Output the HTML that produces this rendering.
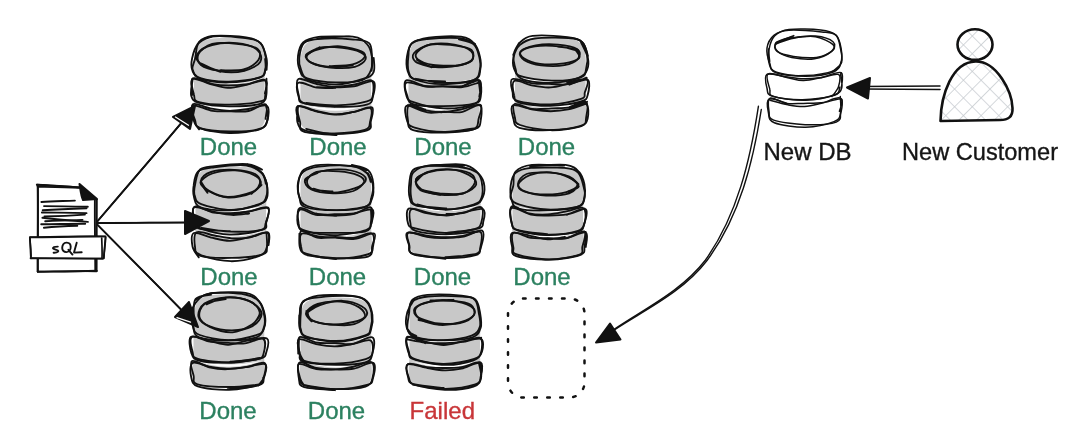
<!DOCTYPE html>
<html><head><meta charset="utf-8"><style>
html,body{margin:0;padding:0;background:#fff;width:1080px;height:436px;overflow:hidden}
svg{position:absolute;left:0;top:0;will-change:transform}
.t{font-family:"Liberation Sans",sans-serif;font-size:24px;stroke-width:0.35px}
</style></head><body>
<svg width="1080" height="436" viewBox="0 0 1080 436">
<path d="M194.0,58.3 C194.8,56.0 195.5,47.6 198.7,44.3 C201.8,41.0 205.0,39.4 212.9,38.4 C220.7,37.4 237.8,37.4 245.6,38.4 C253.5,39.4 256.7,41.0 259.8,44.3 C263.0,47.6 263.7,49.9 264.5,58.3 C265.3,66.7 264.5,84.1 264.5,94.7 C264.5,105.3 266.5,115.9 264.5,121.8 C262.5,127.8 258.3,128.9 252.4,130.6 C246.6,132.2 237.0,131.5 229.2,131.5 C221.5,131.5 211.9,132.2 206.1,130.6 C200.2,128.9 196.0,127.8 194.0,121.8 C192.0,115.9 194.0,105.3 194.0,94.7 C194.0,84.1 194.0,64.4 194.0,58.3 Z" fill="#c8c8c8"/><path d="M196.0,78.2 Q229.2,89.8 262.5,78.2 Q229.2,85.0 196.0,78.2Z" fill="#fff"/><path d="M196.0,103.4 Q229.2,116.0 262.5,103.4 Q229.2,111.2 196.0,103.4Z" fill="#fff"/><g fill="none" stroke="#111" stroke-width="1.85" stroke-linecap="round" stroke-linejoin="round"><path d="M265.1,59.0 C265.2,60.8 266.1,66.5 265.3,69.5 C264.5,72.5 266.3,75.2 260.3,77.2 C254.2,79.2 239.0,81.5 229.0,81.6 C219.0,81.8 206.5,80.2 200.4,78.1 C194.4,76.1 193.5,72.7 192.7,69.4 C191.8,66.2 194.1,63.0 195.1,58.5 C196.2,53.9 195.9,46.0 198.9,42.2 C202.0,38.5 205.7,36.8 213.5,36.0 C221.4,35.2 238.4,36.2 246.2,37.4 C254.0,38.6 257.2,39.7 260.6,43.2 C263.9,46.7 265.5,53.9 266.5,58.3 C267.5,62.7 266.6,67.9 266.6,69.8"/><path d="M197.6,44.1 C199.9,42.8 203.4,37.5 211.3,36.5 C219.3,35.5 237.2,37.1 245.4,38.2 C253.7,39.4 257.2,40.0 260.6,43.4 C264.1,46.8 265.2,53.9 265.9,58.5 C266.6,63.0 266.3,67.4 265.1,70.6 C263.9,73.8 264.9,75.8 259.0,77.8 C253.1,79.7 239.2,82.2 229.6,82.4 C220.0,82.7 207.6,81.0 201.5,79.1 C195.3,77.2 194.1,74.6 192.6,71.1 C191.0,67.6 191.1,63.1 192.1,58.4 C193.1,53.7 195.3,46.6 198.7,43.0 C202.1,39.3 210.2,37.5 212.5,36.4"/><path d="M220.4,71.8 C217.0,70.4 203.9,66.2 200.1,63.2 C196.3,60.2 195.6,56.7 197.6,53.7 C199.6,50.6 205.5,46.7 212.1,45.0 C218.7,43.2 229.4,42.4 236.9,43.2 C244.4,44.0 253.3,46.6 257.1,49.7 C261.0,52.8 262.4,58.4 260.2,61.9 C258.1,65.4 251.0,69.2 244.3,70.8 C237.6,72.4 227.3,72.6 220.1,71.3 C212.9,70.1 204.3,64.8 201.2,63.5"/><path d="M244.0,70.4 C239.8,70.5 226.1,71.6 219.0,70.7 C211.8,69.8 204.3,67.8 200.9,65.0 C197.5,62.2 196.7,57.4 198.6,53.9 C200.5,50.4 205.9,45.7 212.2,44.0 C218.6,42.3 229.1,43.0 236.6,43.8 C244.2,44.6 253.8,46.1 257.4,48.8 C261.0,51.5 260.7,56.6 258.4,60.0 C256.1,63.5 249.9,67.8 243.6,69.5 C237.2,71.2 224.1,70.1 220.2,70.3"/><path d="M192.6,79.7 C192.4,82.4 190.1,91.9 191.2,95.8 C192.4,99.6 193.0,101.2 199.4,102.9 C205.7,104.7 219.1,106.1 229.2,106.3 C239.3,106.4 254.0,105.7 260.0,103.8 C266.0,101.9 264.6,98.9 265.3,94.9 C266.0,90.9 267.6,81.6 264.5,79.9 C261.4,78.2 252.8,83.4 246.6,84.8 C240.5,86.1 233.7,88.0 227.7,87.9 C221.6,87.7 216.1,85.4 210.3,84.0 C204.4,82.5 195.5,77.3 192.6,79.1 C189.6,80.9 192.5,92.2 192.5,94.9"/><path d="M264.9,93.5 C265.1,91.3 268.9,82.1 266.1,80.6 C263.3,79.0 254.2,83.2 247.9,84.1 C241.6,84.9 234.3,85.5 228.4,85.5 C222.5,85.5 218.6,85.3 212.7,84.1 C206.7,82.9 195.8,76.5 192.7,78.3 C189.6,80.0 192.9,90.5 193.9,94.5 C195.0,98.5 193.0,100.4 199.0,102.1 C204.9,103.8 219.2,104.8 229.5,104.6 C239.9,104.5 255.1,102.8 261.2,101.2 C267.3,99.6 265.4,98.7 266.3,95.0 C267.1,91.2 266.4,81.4 266.5,78.7"/><path d="M193.0,118.5 C194.2,120.1 193.7,126.1 200.0,128.2 C206.2,130.4 220.5,131.4 230.4,131.5 C240.3,131.7 253.2,130.9 259.3,129.0 C265.5,127.2 266.0,124.3 267.3,120.4 C268.5,116.5 269.9,107.7 266.7,105.8 C263.6,103.9 254.6,108.1 248.4,109.0 C242.3,109.8 236.1,110.9 229.7,110.8 C223.3,110.7 216.4,109.5 210.2,108.4 C204.0,107.3 195.5,102.1 192.8,104.2 C190.1,106.2 192.9,116.5 193.9,120.7 C195.0,124.9 198.2,127.9 199.0,129.4"/><path d="M265.6,118.9 C265.6,116.4 268.4,105.6 265.6,104.3 C262.7,102.9 254.4,109.9 248.6,111.0 C242.9,112.2 237.1,111.4 231.1,111.3 C225.1,111.3 218.9,111.7 212.5,110.8 C206.1,109.8 195.6,103.9 192.7,105.5 C189.8,107.1 193.8,116.6 195.1,120.4 C196.3,124.2 194.7,126.2 200.4,128.3 C206.1,130.4 219.3,132.9 229.3,133.0 C239.2,133.2 253.7,131.5 260.1,129.2 C266.6,126.9 266.7,123.1 267.7,119.3 C268.7,115.5 266.4,108.5 266.1,106.3"/></g><path d="M300.5,57.4 C301.3,55.3 302.0,47.7 305.2,44.7 C308.3,41.7 311.5,40.2 319.4,39.3 C327.2,38.4 344.3,38.4 352.1,39.3 C360.0,40.2 363.2,41.7 366.3,44.7 C369.5,47.7 370.2,48.9 371.0,57.4 C371.8,65.9 371.0,84.8 371.0,95.7 C371.0,106.6 373.0,116.9 371.0,122.8 C369.0,128.8 364.8,129.9 358.9,131.6 C353.1,133.2 343.5,132.5 335.8,132.5 C328.0,132.5 318.4,133.2 312.6,131.6 C306.7,129.9 302.5,128.8 300.5,122.8 C298.5,116.9 300.5,106.6 300.5,95.7 C300.5,84.8 300.5,63.8 300.5,57.4 Z" fill="#c8c8c8"/><path d="M302.5,79.2 Q335.8,90.8 369.0,79.2 Q335.8,86.0 302.5,79.2Z" fill="#fff"/><path d="M302.5,104.4 Q335.8,117.0 369.0,104.4 Q335.8,112.2 302.5,104.4Z" fill="#fff"/><g fill="none" stroke="#111" stroke-width="1.85" stroke-linecap="round" stroke-linejoin="round"><path d="M317.3,38.8 C323.2,38.4 344.4,35.7 352.8,36.6 C361.2,37.6 364.3,41.3 367.4,44.6 C370.6,47.9 371.1,52.2 371.8,56.2 C372.5,60.2 373.0,64.8 371.5,68.7 C370.0,72.6 368.7,77.5 362.7,79.8 C356.7,82.1 344.7,82.7 335.5,82.4 C326.3,82.2 313.2,80.2 307.3,78.3 C301.4,76.3 301.4,74.4 299.9,70.6 C298.3,66.9 297.5,60.6 298.0,55.9 C298.6,51.3 299.7,45.7 303.1,42.5 C306.5,39.4 310.4,37.9 318.5,36.9 C326.6,36.0 346.2,36.6 351.7,36.6"/><path d="M373.7,57.8 C373.7,60.1 375.2,68.4 373.7,71.9 C372.2,75.3 370.7,76.4 364.5,78.5 C358.3,80.6 345.9,84.2 336.6,84.4 C327.2,84.7 314.2,82.3 308.3,79.8 C302.4,77.4 302.6,73.4 301.1,69.8 C299.6,66.2 298.8,62.5 299.3,58.0 C299.8,53.6 300.6,46.3 304.0,43.1 C307.5,39.9 312.0,39.4 320.2,38.8 C328.4,38.2 345.2,38.7 353.3,39.5 C361.5,40.2 366.0,40.3 369.1,43.1 C372.2,45.9 371.5,51.8 371.9,56.4 C372.4,61.0 371.7,68.3 371.7,70.7"/><path d="M352.9,65.4 C349.2,65.7 337.9,67.5 330.9,67.0 C323.9,66.6 315.0,64.6 311.1,62.7 C307.1,60.7 305.7,57.6 307.1,55.3 C308.5,53.0 313.8,50.5 319.3,49.0 C324.9,47.5 333.3,45.9 340.3,46.3 C347.3,46.7 357.4,49.5 361.4,51.4 C365.4,53.3 365.8,55.4 364.4,57.5 C362.9,59.7 358.5,62.9 352.7,64.3 C347.0,65.7 333.6,65.8 329.7,66.1"/><path d="M305.8,55.9 C308.1,54.5 313.4,48.9 319.5,47.6 C325.6,46.2 335.7,47.1 342.5,47.9 C349.3,48.7 356.4,50.4 360.3,52.2 C364.1,54.1 366.6,56.6 365.7,59.0 C364.8,61.5 360.7,65.4 354.8,66.8 C348.9,68.2 337.4,68.2 330.2,67.5 C323.0,66.9 315.8,65.0 311.7,62.9 C307.7,60.8 304.6,57.5 305.9,54.9 C307.2,52.3 317.3,48.5 319.6,47.3"/><path d="M335.3,87.9 C332.3,87.9 323.1,88.5 317.0,87.7 C310.8,86.8 301.4,81.1 298.3,82.7 C295.3,84.3 297.7,93.7 298.7,97.1 C299.6,100.6 297.7,101.6 304.1,103.2 C310.4,104.8 326.3,106.6 336.8,106.8 C347.3,107.1 360.8,106.4 366.8,104.7 C372.8,103.0 371.8,100.5 372.9,96.6 C374.0,92.7 376.3,83.0 373.2,81.3 C370.0,79.6 360.1,85.4 353.9,86.4 C347.6,87.4 341.8,87.2 335.7,87.4 C329.5,87.5 320.0,87.3 316.9,87.2"/><path d="M306.4,103.0 C311.4,103.4 326.3,105.6 336.4,105.3 C346.6,105.0 361.0,103.1 367.0,101.4 C373.1,99.6 372.1,98.2 372.9,94.7 C373.6,91.2 374.4,82.1 371.4,80.4 C368.4,78.7 361.1,83.4 354.9,84.5 C348.8,85.5 340.9,86.7 334.6,86.7 C328.2,86.6 322.8,85.3 316.7,84.0 C310.7,82.8 301.4,77.3 298.4,79.0 C295.4,80.7 297.5,90.3 298.5,94.3 C299.5,98.3 298.5,101.3 304.6,103.3 C310.7,105.3 329.9,105.9 335.0,106.5"/><path d="M306.2,128.9 C310.8,129.8 323.8,133.9 333.9,134.1 C344.1,134.3 360.9,132.4 367.1,130.3 C373.2,128.1 370.0,125.2 370.8,121.4 C371.6,117.5 374.8,108.9 372.0,107.4 C369.2,105.8 359.8,110.7 353.9,111.9 C347.9,113.1 342.6,114.7 336.4,114.6 C330.2,114.4 323.0,112.4 316.6,111.0 C310.3,109.6 301.0,104.3 298.3,106.1 C295.5,108.0 299.2,117.9 300.1,122.1 C301.0,126.4 297.7,129.4 303.8,131.6 C309.9,133.8 331.2,134.5 336.6,135.1"/><path d="M298.0,105.9 C297.9,108.6 296.2,118.2 297.5,122.3 C298.7,126.4 299.3,128.8 305.5,130.6 C311.6,132.4 324.4,133.4 334.3,133.3 C344.2,133.2 358.8,132.0 364.8,130.0 C370.7,128.0 369.2,124.9 370.2,121.2 C371.1,117.6 373.1,109.7 370.5,108.1 C367.8,106.6 360.4,110.8 354.3,111.8 C348.3,112.9 340.5,114.5 334.2,114.4 C327.8,114.3 322.4,112.6 316.2,111.3 C310.1,110.0 300.2,104.8 297.2,106.5 C294.3,108.2 298.3,118.9 298.6,121.4"/></g><path d="M408.5,56.6 C409.3,54.5 410.0,47.0 413.2,44.1 C416.3,41.1 419.5,39.7 427.4,38.8 C435.2,37.9 452.3,37.9 460.1,38.8 C468.0,39.7 471.2,41.1 474.3,44.1 C477.5,47.0 478.2,48.1 479.0,56.6 C479.8,65.1 479.0,84.2 479.0,95.2 C479.0,106.1 481.0,116.4 479.0,122.3 C477.0,128.3 472.8,129.4 466.9,131.1 C461.1,132.7 451.5,132.0 443.8,132.0 C436.0,132.0 426.4,132.7 420.6,131.1 C414.7,129.4 410.5,128.3 408.5,122.3 C406.5,116.4 408.5,106.1 408.5,95.2 C408.5,84.2 408.5,63.0 408.5,56.6 Z" fill="#c8c8c8"/><path d="M410.5,78.7 Q443.8,90.3 477.0,78.7 Q443.8,85.5 410.5,78.7Z" fill="#fff"/><path d="M410.5,103.9 Q443.8,116.5 477.0,103.9 Q443.8,111.7 410.5,103.9Z" fill="#fff"/><g fill="none" stroke="#111" stroke-width="1.85" stroke-linecap="round" stroke-linejoin="round"><path d="M458.9,39.3 C461.4,40.1 470.3,41.3 473.7,44.2 C477.1,47.1 478.2,52.4 479.2,56.6 C480.2,60.8 480.8,65.4 479.9,69.4 C478.9,73.3 479.8,77.8 473.5,80.2 C467.3,82.7 452.0,84.3 442.3,84.2 C432.5,84.1 420.8,81.7 415.0,79.5 C409.3,77.3 409.1,75.0 407.7,71.1 C406.4,67.3 406.2,61.2 407.0,56.5 C407.7,51.8 408.8,45.9 412.1,43.0 C415.5,40.1 419.3,39.8 427.3,39.0 C435.3,38.2 452.1,37.4 460.1,38.2 C468.1,39.0 472.7,43.0 475.2,44.0"/><path d="M445.1,81.4 C440.2,81.1 421.9,81.3 415.8,79.7 C409.7,78.0 409.8,75.4 408.6,71.4 C407.4,67.4 407.9,60.1 408.4,55.6 C408.9,51.0 408.2,46.9 411.5,43.9 C414.9,41.0 420.5,38.8 428.7,37.6 C436.9,36.4 453.4,35.7 461.0,36.7 C468.6,37.7 471.2,40.4 474.3,43.6 C477.5,46.9 478.8,51.9 479.8,56.1 C480.8,60.3 481.3,64.9 480.4,68.9 C479.5,72.9 480.7,77.6 474.5,79.9 C468.3,82.3 452.9,83.0 443.1,82.8 C433.4,82.6 420.5,79.4 415.9,78.8"/><path d="M431.7,67.3 C429.0,66.3 418.5,64.0 415.6,61.7 C412.7,59.3 411.6,55.9 414.1,53.0 C416.6,50.1 423.8,45.8 430.5,44.4 C437.2,43.0 447.7,43.5 454.4,44.6 C461.2,45.7 468.1,48.3 471.0,51.0 C473.9,53.7 474.2,58.3 471.7,60.8 C469.1,63.2 462.2,64.8 455.7,65.8 C449.1,66.8 438.8,67.9 432.3,66.9 C425.8,65.9 419.5,61.0 416.9,59.8"/><path d="M456.3,65.7 C452.4,65.6 439.6,66.1 433.2,65.0 C426.7,63.9 420.2,61.2 417.6,59.1 C414.9,57.0 415.1,54.6 417.2,52.1 C419.4,49.7 424.3,45.6 430.7,44.5 C437.2,43.5 449.0,44.7 455.8,45.6 C462.6,46.5 468.9,47.5 471.5,50.0 C474.1,52.4 474.1,57.8 471.4,60.5 C468.8,63.2 462.0,65.0 455.5,66.0 C449.0,66.9 436.2,66.0 432.3,66.0"/><path d="M479.3,96.9 C479.4,94.2 482.7,82.3 479.8,80.5 C477.0,78.7 468.6,85.1 462.3,86.1 C455.9,87.0 447.9,86.2 441.7,86.2 C435.5,86.2 430.8,87.0 424.9,86.0 C419.0,85.0 409.3,78.7 406.2,80.3 C403.1,81.8 405.1,91.7 406.3,95.3 C407.5,99.0 407.3,100.0 413.5,102.2 C419.7,104.4 433.9,108.0 443.7,108.4 C453.5,108.8 466.4,106.7 472.4,104.8 C478.4,102.9 478.8,100.9 479.9,96.9 C480.9,93.0 478.9,83.6 478.7,80.9"/><path d="M478.6,82.6 C475.9,83.3 468.3,86.6 462.4,87.2 C456.4,87.9 449.0,86.5 442.9,86.4 C436.8,86.3 432.0,87.2 425.9,86.6 C419.8,86.0 409.4,81.2 406.3,82.7 C403.2,84.2 405.8,91.8 407.1,95.4 C408.4,99.0 407.8,102.7 413.8,104.5 C419.9,106.3 433.2,106.4 443.3,106.2 C453.5,106.1 468.5,105.1 474.7,103.4 C481.0,101.7 480.1,99.9 480.8,96.1 C481.5,92.2 481.9,81.9 478.9,80.2 C476.0,78.5 465.5,85.0 462.9,86.0"/><path d="M425.5,109.7 C422.8,109.0 412.1,103.3 409.2,105.1 C406.3,106.8 407.3,116.1 407.9,120.2 C408.6,124.4 407.0,128.0 413.2,130.1 C419.5,132.1 435.3,132.8 445.6,132.6 C455.9,132.4 469.3,130.9 475.1,128.9 C481.0,126.8 479.9,124.3 480.7,120.4 C481.4,116.4 482.8,106.6 479.6,105.2 C476.4,103.8 467.5,111.0 461.6,112.1 C455.7,113.2 450.0,111.6 444.2,111.7 C438.5,111.7 433.3,113.5 427.3,112.4 C421.2,111.3 411.1,106.3 407.9,105.1"/><path d="M443.4,131.8 C448.4,131.4 467.4,131.6 473.3,129.3 C479.2,127.1 477.5,122.5 478.7,118.4 C479.9,114.3 483.3,106.4 480.5,104.9 C477.8,103.3 468.4,108.0 462.1,109.2 C455.7,110.5 448.8,112.0 442.6,112.2 C436.4,112.4 431.1,111.3 425.1,110.3 C419.1,109.2 409.6,104.0 406.6,105.7 C403.6,107.4 405.9,117.0 407.1,120.6 C408.3,124.2 407.6,125.4 413.8,127.3 C420.0,129.2 434.3,131.9 444.3,132.0 C454.4,132.2 469.1,128.9 474.1,128.3"/></g><path d="M515.0,56.0 C515.8,53.9 516.5,46.5 519.7,43.5 C522.8,40.6 526.0,39.1 533.9,38.3 C541.7,37.4 558.8,37.4 566.6,38.3 C574.5,39.1 577.7,40.6 580.8,43.5 C584.0,46.5 584.7,47.6 585.5,56.0 C586.3,64.3 585.5,82.8 585.5,93.5 C585.5,104.2 587.5,114.2 585.5,120.1 C583.5,125.9 579.3,127.0 573.5,128.6 C567.6,130.2 558.0,129.6 550.2,129.6 C542.5,129.6 532.9,130.2 527.0,128.6 C521.2,127.0 517.0,125.9 515.0,120.1 C513.0,114.2 515.0,104.2 515.0,93.5 C515.0,82.8 515.0,62.2 515.0,56.0 Z" fill="#c8c8c8"/><path d="M517.0,77.3 Q550.2,88.7 583.5,77.3 Q550.2,84.0 517.0,77.3Z" fill="#fff"/><path d="M517.0,102.0 Q550.2,114.4 583.5,102.0 Q550.2,109.6 517.0,102.0Z" fill="#fff"/><g fill="none" stroke="#111" stroke-width="1.85" stroke-linecap="round" stroke-linejoin="round"><path d="M581.0,42.3 C582.2,44.9 586.8,53.2 587.8,57.8 C588.8,62.4 588.7,66.4 587.1,69.8 C585.6,73.1 584.4,75.6 578.5,77.8 C572.7,79.9 561.4,82.5 552.1,82.8 C542.9,83.1 529.3,81.8 522.9,79.4 C516.6,77.0 515.5,72.2 514.0,68.4 C512.5,64.7 512.7,60.7 513.7,56.8 C514.7,52.8 516.5,47.9 520.0,44.9 C523.5,41.8 526.6,39.7 534.7,38.5 C542.8,37.4 560.6,37.3 568.5,38.0 C576.5,38.6 579.3,39.3 582.5,42.3 C585.8,45.3 587.1,53.7 588.0,56.0"/><path d="M513.2,54.9 C514.3,52.9 516.3,46.2 519.5,43.0 C522.7,39.9 524.6,36.7 532.6,35.8 C540.6,34.8 559.3,36.2 567.5,37.2 C575.6,38.2 578.4,38.9 581.7,41.7 C584.9,44.5 586.3,49.8 587.1,54.2 C587.8,58.6 587.3,64.4 586.2,68.3 C585.2,72.1 586.6,75.3 580.8,77.3 C575.1,79.4 561.6,80.9 551.6,80.7 C541.6,80.5 526.8,78.2 520.8,76.2 C514.8,74.3 516.8,72.6 515.6,69.0 C514.4,65.3 513.2,58.6 513.8,54.2 C514.3,49.9 518.2,44.9 519.1,43.0"/><path d="M575.7,50.0 C576.3,51.4 581.1,56.0 579.1,58.2 C577.1,60.4 570.4,62.4 563.9,63.3 C557.4,64.3 546.7,64.7 540.1,63.9 C533.5,63.1 527.4,60.7 524.2,58.6 C521.0,56.5 518.9,53.5 520.8,51.3 C522.7,49.1 529.7,46.5 535.8,45.4 C542.0,44.3 551.1,44.1 558.0,44.7 C564.8,45.3 573.5,46.9 577.0,49.1 C580.5,51.3 578.6,56.4 578.9,57.9"/><path d="M557.5,46.5 C560.8,47.1 574.2,47.8 577.6,49.9 C581.0,52.0 580.1,56.3 577.9,58.8 C575.7,61.4 570.7,64.0 564.5,65.1 C558.4,66.2 547.8,66.1 541.1,65.3 C534.4,64.5 527.9,62.4 524.4,60.2 C521.0,58.0 518.6,54.3 520.3,52.0 C522.1,49.7 528.4,47.3 534.9,46.3 C541.3,45.4 552.0,45.6 559.0,46.3 C565.9,47.0 573.6,49.8 576.5,50.5"/><path d="M587.0,79.1 C583.8,79.9 573.9,82.4 567.9,83.8 C561.8,85.2 556.5,87.1 550.7,87.4 C544.9,87.8 539.0,86.8 533.0,85.7 C526.9,84.6 517.5,79.3 514.3,80.9 C511.2,82.6 513.3,91.7 514.1,95.3 C515.0,98.9 513.3,100.8 519.3,102.6 C525.3,104.4 539.8,106.1 550.1,105.9 C560.4,105.8 574.9,103.5 581.2,101.5 C587.5,99.6 586.8,98.0 587.8,94.4 C588.9,90.7 590.6,81.1 587.5,79.5 C584.5,77.9 572.4,83.8 569.4,84.7"/><path d="M586.7,77.7 C583.6,78.8 574.4,83.2 568.1,84.2 C561.8,85.3 554.8,84.0 548.9,83.9 C542.9,83.8 538.6,84.2 532.5,83.4 C526.4,82.6 515.7,77.5 512.4,79.0 C509.1,80.4 511.7,88.3 512.6,92.0 C513.4,95.6 511.2,98.8 517.5,100.9 C523.8,103.0 539.9,104.7 550.5,104.4 C561.1,104.0 575.3,100.8 581.0,98.9 C586.7,96.9 583.9,95.7 584.8,92.5 C585.8,89.3 589.8,81.3 586.8,79.6 C583.9,77.9 570.4,81.9 567.1,82.4"/><path d="M587.1,101.8 C584.3,102.7 576.2,106.3 570.2,107.4 C564.3,108.5 557.8,108.1 551.4,108.4 C545.1,108.6 538.2,109.7 532.0,108.9 C525.9,108.2 517.4,102.6 514.5,104.0 C511.7,105.4 514.0,113.9 514.9,117.5 C515.8,121.0 514.2,122.9 520.1,125.0 C526.1,127.1 540.4,130.0 550.6,130.2 C560.8,130.4 575.4,128.3 581.3,126.1 C587.2,123.9 585.4,121.2 586.2,117.2 C587.0,113.2 588.8,103.7 586.0,102.0 C583.2,100.3 572.1,106.3 569.4,107.1"/><path d="M586.3,103.6 C583.3,104.6 574.1,108.1 568.1,109.4 C562.2,110.7 556.6,111.2 550.7,111.2 C544.9,111.2 539.4,110.5 533.1,109.5 C526.8,108.6 516.2,103.8 512.9,105.3 C509.7,106.8 512.3,115.0 513.4,118.8 C514.5,122.5 513.4,125.9 519.4,127.8 C525.4,129.7 539.3,130.5 549.4,130.2 C559.5,129.9 573.6,128.1 580.0,126.2 C586.3,124.2 586.6,122.5 587.6,118.8 C588.6,115.1 589.0,105.7 586.0,104.0 C583.0,102.4 572.5,108.3 569.8,109.1"/></g><path d="M195.5,184.5 C196.3,182.5 197.0,175.2 200.2,172.4 C203.3,169.5 206.5,168.1 214.4,167.2 C222.2,166.4 239.3,166.4 247.1,167.2 C255.0,168.1 258.2,169.5 261.3,172.4 C264.5,175.2 265.2,176.2 266.0,184.5 C266.8,192.8 266.0,211.5 266.0,222.2 C266.0,232.9 268.0,242.8 266.0,248.6 C264.0,254.4 259.8,255.5 253.9,257.1 C248.1,258.7 238.5,258.1 230.8,258.1 C223.0,258.1 213.4,258.7 207.6,257.1 C201.7,255.5 197.5,254.4 195.5,248.6 C193.5,242.8 195.5,232.9 195.5,222.2 C195.5,211.5 195.5,190.8 195.5,184.5 Z" fill="#c8c8c8"/><path d="M197.5,206.1 Q230.8,217.4 264.0,206.1 Q230.8,212.7 197.5,206.1Z" fill="#fff"/><path d="M197.5,230.7 Q230.8,242.9 264.0,230.7 Q230.8,238.2 197.5,230.7Z" fill="#fff"/><g fill="none" stroke="#111" stroke-width="1.85" stroke-linecap="round" stroke-linejoin="round"><path d="M247.8,164.2 C250.0,165.5 258.0,168.8 261.1,172.0 C264.2,175.2 265.6,179.2 266.5,183.5 C267.5,187.9 268.2,194.4 266.9,197.9 C265.7,201.3 265.2,202.0 259.3,204.1 C253.4,206.1 241.0,210.0 231.3,210.0 C221.6,210.0 207.3,206.5 201.2,204.1 C195.1,201.8 195.9,199.2 194.8,195.9 C193.8,192.6 194.2,188.8 195.1,184.5 C196.0,180.1 196.8,172.6 200.1,169.5 C203.3,166.5 206.7,167.0 214.6,166.1 C222.5,165.2 239.6,163.6 247.5,164.2 C255.4,164.8 259.6,168.7 262.0,169.6"/><path d="M262.4,173.1 C263.2,175.0 266.4,180.5 267.0,184.7 C267.5,188.9 267.3,195.0 265.7,198.4 C264.2,201.8 263.6,203.3 257.6,205.3 C251.7,207.2 239.3,210.0 229.8,210.3 C220.3,210.7 206.5,209.6 200.6,207.4 C194.6,205.2 195.2,200.8 194.0,197.1 C192.9,193.4 193.0,189.6 193.7,185.4 C194.3,181.1 194.7,174.6 198.1,171.5 C201.6,168.5 206.3,168.3 214.3,167.3 C222.4,166.3 238.5,164.5 246.4,165.5 C254.4,166.5 258.7,170.2 261.9,173.3 C265.2,176.3 265.2,181.9 265.8,183.6"/><path d="M207.5,192.8 C206.4,190.8 200.3,184.6 200.9,181.1 C201.5,177.6 205.5,173.9 211.1,172.0 C216.6,170.2 227.0,169.5 234.3,169.8 C241.6,170.2 250.8,171.7 255.1,174.0 C259.3,176.4 260.5,180.6 259.8,183.8 C259.1,187.0 256.1,191.0 250.8,193.3 C245.5,195.6 235.2,198.0 228.2,197.6 C221.1,197.1 212.9,193.6 208.3,190.8 C203.7,188.1 202.0,182.7 200.7,181.1"/><path d="M261.5,184.9 C259.9,186.1 257.4,190.2 251.8,192.2 C246.1,194.3 234.6,197.2 227.6,197.0 C220.5,196.8 214.0,193.5 209.5,191.1 C205.0,188.6 200.1,185.4 200.5,182.5 C201.0,179.6 206.6,175.5 212.3,173.5 C218.1,171.5 228.0,170.2 235.0,170.4 C241.9,170.7 249.8,172.9 254.1,175.1 C258.4,177.4 261.3,180.7 260.8,183.9 C260.4,187.0 253.0,192.2 251.5,193.8"/><path d="M201.7,227.8 C206.5,228.5 220.3,231.3 230.5,231.6 C240.7,231.9 256.7,231.2 262.6,229.7 C268.6,228.1 265.4,226.0 266.3,222.3 C267.2,218.6 270.9,209.4 268.1,207.6 C265.3,205.7 255.7,210.4 249.5,211.3 C243.2,212.2 236.5,212.9 230.6,213.1 C224.6,213.3 219.7,213.7 213.7,212.6 C207.8,211.5 198.3,205.2 195.0,206.5 C191.7,207.9 193.1,217.2 193.9,220.9 C194.8,224.7 194.1,227.1 200.1,228.8 C206.1,230.5 225.0,230.8 230.0,231.2"/><path d="M249.1,213.5 C246.2,213.7 237.8,215.3 231.6,214.9 C225.5,214.6 218.5,212.6 212.3,211.4 C206.0,210.2 196.9,205.7 194.0,207.5 C191.2,209.3 194.2,218.6 195.3,222.1 C196.4,225.5 194.9,226.2 200.7,228.3 C206.4,230.4 219.7,234.3 229.6,234.6 C239.6,234.9 254.6,232.2 260.6,230.2 C266.6,228.3 264.5,226.4 265.8,222.8 C267.0,219.1 270.7,210.2 268.0,208.3 C265.3,206.4 256.0,210.3 249.6,211.3 C243.2,212.3 232.8,213.8 229.5,214.4"/><path d="M193.9,249.0 C195.0,250.0 194.7,253.2 200.9,255.2 C207.0,257.3 221.2,261.1 230.9,261.2 C240.7,261.3 253.3,258.2 259.4,255.8 C265.4,253.4 265.8,250.5 267.1,246.7 C268.5,242.9 270.5,234.5 267.5,232.9 C264.5,231.3 255.4,235.9 249.1,237.2 C242.9,238.6 236.5,240.8 230.1,240.8 C223.8,240.9 217.2,238.9 211.2,237.6 C205.2,236.3 197.0,231.5 193.9,233.0 C190.8,234.5 191.8,242.7 192.6,246.8 C193.4,250.9 197.7,255.6 198.7,257.4"/><path d="M268.6,245.0 C268.5,242.9 271.1,233.5 267.9,232.3 C264.7,231.1 255.3,236.7 249.3,237.7 C243.2,238.7 237.5,238.6 231.7,238.3 C225.9,237.9 220.3,236.5 214.5,235.5 C208.6,234.5 199.9,230.4 196.7,232.3 C193.4,234.2 194.4,242.9 195.0,246.9 C195.6,250.8 194.3,254.1 200.4,255.9 C206.6,257.8 221.4,258.2 231.8,257.9 C242.1,257.7 256.9,256.3 262.7,254.4 C268.6,252.5 266.3,250.3 266.9,246.7 C267.5,243.1 266.6,235.1 266.5,232.8"/></g><path d="M300.5,182.3 C301.3,180.5 302.0,174.1 305.2,171.5 C308.3,169.0 311.5,167.7 319.4,167.0 C327.2,166.2 344.3,166.2 352.1,167.0 C360.0,167.7 363.2,169.0 366.3,171.5 C369.5,174.1 370.2,173.9 371.0,182.3 C371.8,190.8 371.0,211.1 371.0,222.2 C371.0,233.2 373.0,242.8 371.0,248.6 C369.0,254.4 364.8,255.5 358.9,257.1 C353.1,258.7 343.5,258.1 335.8,258.1 C328.0,258.1 318.4,258.7 312.6,257.1 C306.7,255.5 302.5,254.4 300.5,248.6 C298.5,242.8 300.5,233.2 300.5,222.2 C300.5,211.1 300.5,189.0 300.5,182.3 Z" fill="#c8c8c8"/><path d="M302.5,206.1 Q335.8,217.4 369.0,206.1 Q335.8,212.7 302.5,206.1Z" fill="#fff"/><path d="M302.5,230.7 Q335.8,242.9 369.0,230.7 Q335.8,238.2 302.5,230.7Z" fill="#fff"/><g fill="none" stroke="#111" stroke-width="1.85" stroke-linecap="round" stroke-linejoin="round"><path d="M367.8,173.0 C368.7,174.8 372.0,179.8 372.7,183.9 C373.5,188.0 373.8,193.8 372.3,197.8 C370.8,201.7 370.0,205.3 363.8,207.4 C357.6,209.5 344.9,210.5 335.1,210.4 C325.4,210.4 311.1,209.2 305.1,207.0 C299.2,204.8 300.6,201.2 299.4,197.3 C298.2,193.3 297.2,187.7 297.9,183.4 C298.5,179.2 299.9,174.7 303.4,171.9 C306.8,169.1 310.6,167.7 318.6,166.7 C326.7,165.8 343.7,165.0 351.7,166.0 C359.6,167.0 363.3,170.1 366.4,172.7 C369.6,175.4 370.0,180.4 370.7,181.9"/><path d="M351.8,165.0 C354.5,165.8 364.5,167.0 368.1,170.1 C371.6,173.2 372.8,178.8 373.3,183.5 C373.8,188.2 372.3,194.6 371.2,198.4 C370.0,202.2 372.1,204.3 366.3,206.3 C360.5,208.2 346.2,210.1 336.4,210.1 C326.5,210.0 313.4,208.3 307.2,206.0 C301.0,203.7 300.4,200.3 299.0,196.1 C297.6,191.9 297.9,185.3 298.7,180.9 C299.5,176.5 300.2,172.5 303.8,169.8 C307.5,167.2 312.2,165.4 320.5,164.8 C328.7,164.3 345.6,165.4 353.3,166.4 C361.0,167.3 364.5,169.8 366.8,170.5"/><path d="M332.5,191.5 C329.0,191.0 315.9,190.7 311.7,188.8 C307.5,186.8 306.4,182.7 307.2,180.0 C308.0,177.3 310.9,174.5 316.4,172.7 C321.9,170.9 333.0,169.2 340.4,169.4 C347.7,169.5 356.3,171.6 360.5,173.5 C364.7,175.5 366.6,178.5 365.6,181.0 C364.6,183.5 359.9,186.5 354.4,188.4 C348.9,190.4 339.4,192.6 332.6,192.6 C325.7,192.6 316.5,189.3 313.3,188.6"/><path d="M305.2,180.9 C307.1,179.4 311.0,173.6 316.6,172.0 C322.2,170.4 332.1,170.8 339.0,171.4 C346.0,171.9 354.0,173.6 358.1,175.4 C362.3,177.2 364.7,179.6 364.0,182.1 C363.2,184.7 358.5,189.1 353.4,191.0 C348.2,192.8 340.0,193.6 333.0,193.4 C326.0,193.1 316.0,191.8 311.3,189.5 C306.6,187.2 303.9,182.3 305.0,179.5 C306.0,176.8 315.5,174.0 317.6,172.9"/><path d="M336.2,215.8 C333.1,215.5 323.5,215.3 317.4,214.0 C311.3,212.8 302.8,206.6 299.6,208.1 C296.5,209.7 297.9,219.3 298.6,223.2 C299.4,227.1 298.0,229.9 304.1,231.6 C310.1,233.2 324.5,232.8 334.7,232.9 C344.9,232.9 358.9,233.4 365.0,231.6 C371.2,229.8 370.6,225.9 371.5,221.8 C372.4,217.8 373.5,208.7 370.6,207.4 C367.8,206.1 360.1,212.4 354.4,213.8 C348.6,215.1 342.6,215.5 336.2,215.5 C329.9,215.5 319.7,214.0 316.3,213.7"/><path d="M371.5,223.5 C371.7,221.2 375.4,211.3 372.5,209.6 C369.5,207.9 360.2,212.5 353.9,213.3 C347.5,214.1 340.8,214.0 334.4,214.2 C328.1,214.5 321.4,215.7 315.7,214.9 C310.0,214.1 303.0,208.1 300.0,209.6 C297.1,211.1 296.9,220.3 297.7,223.8 C298.6,227.3 299.0,228.7 305.1,230.6 C311.1,232.5 324.0,235.3 334.1,235.2 C344.3,235.1 359.9,232.2 366.0,230.1 C372.1,227.9 370.1,225.7 370.9,222.4 C371.8,219.1 371.0,212.2 371.0,210.1"/><path d="M299.4,233.6 C299.5,235.9 298.8,244.1 299.9,247.4 C301.0,250.8 300.1,251.8 306.1,253.6 C312.1,255.5 325.7,258.4 335.9,258.6 C346.2,258.7 361.2,256.5 367.4,254.5 C373.6,252.5 372.3,250.1 373.0,246.6 C373.7,243.0 374.9,234.7 371.6,233.3 C368.3,231.9 359.2,237.3 353.2,237.9 C347.1,238.5 341.2,237.1 335.3,237.0 C329.3,237.0 322.9,238.8 317.2,237.7 C311.6,236.7 304.2,229.5 301.3,230.9 C298.4,232.4 300.1,243.8 299.9,246.4"/><path d="M307.5,255.4 C312.4,255.9 326.8,258.0 336.9,258.2 C347.0,258.4 362.1,258.7 368.0,256.6 C373.9,254.6 371.2,249.8 372.2,246.0 C373.2,242.1 377.1,234.7 374.2,233.5 C371.3,232.3 361.0,238.1 354.8,238.8 C348.6,239.6 343.0,238.2 336.9,237.8 C330.7,237.4 323.9,237.0 318.1,236.3 C312.2,235.7 304.5,232.1 301.6,233.8 C298.8,235.6 300.3,243.2 301.1,246.7 C302.0,250.2 300.8,253.0 306.6,255.0 C312.5,257.1 331.2,258.3 336.1,259.0"/></g><path d="M410.0,183.2 C410.8,181.2 411.5,174.3 414.7,171.5 C417.8,168.8 421.0,167.4 428.9,166.6 C436.7,165.8 453.8,165.8 461.6,166.6 C469.5,167.4 472.7,168.8 475.8,171.5 C479.0,174.3 479.7,174.8 480.5,183.2 C481.3,191.5 480.5,210.8 480.5,221.6 C480.5,232.3 482.5,242.0 480.5,247.7 C478.5,253.5 474.3,254.6 468.4,256.1 C462.6,257.7 453.0,257.1 445.2,257.1 C437.5,257.1 427.9,257.7 422.1,256.1 C416.2,254.6 412.0,253.5 410.0,247.7 C408.0,242.0 410.0,232.3 410.0,221.6 C410.0,210.8 410.0,189.6 410.0,183.2 Z" fill="#c8c8c8"/><path d="M412.0,205.7 Q445.2,216.9 478.5,205.7 Q445.2,212.2 412.0,205.7Z" fill="#fff"/><path d="M412.0,230.0 Q445.2,242.1 478.5,230.0 Q445.2,237.4 412.0,230.0Z" fill="#fff"/><g fill="none" stroke="#111" stroke-width="1.85" stroke-linecap="round" stroke-linejoin="round"><path d="M446.3,208.4 C441.3,207.9 422.2,207.3 416.1,205.5 C410.0,203.7 410.8,201.6 409.7,197.7 C408.6,193.9 408.8,187.2 409.4,182.5 C410.0,177.8 410.0,172.5 413.3,169.7 C416.7,166.9 421.1,166.8 429.4,165.9 C437.6,165.1 454.9,163.6 462.8,164.6 C470.6,165.5 473.4,168.5 476.5,171.4 C479.7,174.3 480.9,177.4 481.7,181.9 C482.5,186.3 482.8,194.3 481.4,198.1 C480.0,201.9 479.6,202.6 473.5,204.6 C467.4,206.5 454.1,209.8 444.7,209.7 C435.3,209.7 421.8,205.3 417.2,204.5"/><path d="M429.6,165.8 C435.1,166.0 454.4,166.3 462.3,167.5 C470.2,168.6 473.4,170.1 477.0,172.6 C480.5,175.2 482.8,178.6 483.8,182.7 C484.8,186.7 484.5,193.1 482.9,196.9 C481.3,200.6 480.4,203.1 474.2,205.1 C468.0,207.2 455.3,209.3 445.6,209.3 C436.0,209.3 422.3,207.1 416.6,205.0 C410.8,203.0 412.0,200.7 411.1,197.1 C410.2,193.5 410.6,187.6 411.0,183.5 C411.4,179.4 410.4,175.4 413.4,172.3 C416.4,169.3 420.7,166.5 429.2,165.4 C437.7,164.3 458.5,165.6 464.4,165.6"/><path d="M416.3,181.3 C418.1,179.8 421.5,174.1 427.2,172.2 C432.8,170.2 443.3,168.9 450.3,169.3 C457.2,169.8 464.5,172.5 468.8,175.0 C473.1,177.5 477.0,181.5 476.2,184.5 C475.4,187.5 469.8,191.3 464.1,193.0 C458.3,194.7 448.9,195.5 441.7,194.9 C434.6,194.2 425.6,191.8 421.3,189.2 C417.0,186.6 415.0,182.0 416.0,179.3 C417.0,176.5 425.3,173.8 427.1,172.7"/><path d="M440.5,194.9 C437.1,194.1 424.6,192.7 420.5,190.1 C416.4,187.6 415.0,182.4 416.0,179.5 C417.1,176.6 421.6,174.4 427.0,172.7 C432.4,171.0 441.5,169.5 448.6,169.6 C455.8,169.7 465.6,171.1 470.0,173.3 C474.3,175.5 475.7,179.6 474.7,183.0 C473.6,186.3 469.3,191.5 463.6,193.3 C457.9,195.0 447.7,194.1 440.6,193.6 C433.5,193.0 424.2,190.4 420.9,189.8"/><path d="M464.3,212.6 C461.1,213.0 451.4,215.1 445.0,215.2 C438.7,215.2 432.4,214.1 426.3,213.0 C420.3,211.9 411.8,206.9 408.7,208.6 C405.7,210.3 407.0,219.9 408.0,223.2 C408.9,226.4 408.3,226.5 414.4,228.1 C420.5,229.7 434.7,232.6 444.6,232.8 C454.6,232.9 468.3,230.8 474.4,229.1 C480.5,227.4 480.2,226.0 481.3,222.4 C482.4,218.7 484.2,208.7 481.1,207.2 C478.0,205.6 468.4,212.0 462.6,213.2 C456.9,214.3 449.2,213.8 446.5,214.0"/><path d="M446.1,232.8 C451.4,232.1 471.7,230.6 477.9,228.7 C484.1,226.9 482.5,224.9 483.3,221.6 C484.2,218.3 485.9,210.7 482.9,209.1 C479.9,207.5 471.3,211.1 465.2,212.1 C459.2,213.2 452.8,215.3 446.7,215.5 C440.7,215.6 434.8,213.9 428.9,212.9 C423.1,211.9 414.5,207.5 411.4,209.2 C408.3,210.9 409.7,219.7 410.4,223.3 C411.1,226.9 409.9,228.9 415.7,230.8 C421.5,232.6 435.2,234.2 445.5,234.3 C455.7,234.4 471.9,231.8 477.2,231.3"/><path d="M415.6,254.5 C420.6,255.1 435.6,258.0 445.6,258.1 C455.6,258.2 469.8,257.0 475.6,255.2 C481.4,253.5 479.5,251.5 480.3,247.6 C481.1,243.7 483.4,233.8 480.5,231.9 C477.6,230.0 468.9,234.9 463.0,236.0 C457.2,237.0 451.2,237.8 445.4,238.0 C439.6,238.2 434.5,238.1 428.3,237.2 C422.2,236.3 411.7,231.3 408.5,232.7 C405.4,234.1 408.6,242.0 409.4,245.7 C410.2,249.3 407.5,252.1 413.6,254.3 C419.6,256.5 440.2,258.1 445.5,258.8"/><path d="M445.4,257.1 C450.3,256.6 468.8,256.1 474.8,254.3 C480.8,252.5 479.9,250.2 481.2,246.3 C482.4,242.3 485.1,232.2 482.2,230.6 C479.3,229.0 470.1,235.4 463.9,236.5 C457.7,237.7 451.2,237.4 445.0,237.2 C438.8,237.1 432.8,236.4 426.5,235.6 C420.2,234.9 410.1,231.2 407.2,232.7 C404.3,234.2 407.9,241.1 408.9,244.7 C409.8,248.2 407.0,251.7 413.1,253.9 C419.2,256.1 435.2,257.8 445.5,257.8 C455.9,257.9 470.3,254.7 475.2,254.1"/></g><path d="M512.5,185.4 C513.3,183.2 514.0,175.7 517.2,172.6 C520.3,169.6 523.5,168.2 531.4,167.3 C539.2,166.4 556.3,166.4 564.1,167.3 C572.0,168.2 575.2,169.6 578.3,172.6 C581.5,175.7 582.2,177.0 583.0,185.4 C583.8,193.7 583.0,212.1 583.0,222.8 C583.0,233.5 585.0,243.6 583.0,249.5 C581.0,255.4 576.8,256.5 571.0,258.1 C565.1,259.7 555.5,259.0 547.8,259.0 C540.0,259.0 530.4,259.7 524.5,258.1 C518.7,256.5 514.5,255.4 512.5,249.5 C510.5,243.6 512.5,233.5 512.5,222.8 C512.5,212.1 512.5,191.6 512.5,185.4 Z" fill="#c8c8c8"/><path d="M514.5,206.5 Q547.8,218.0 581.0,206.5 Q547.8,213.2 514.5,206.5Z" fill="#fff"/><path d="M514.5,231.4 Q547.8,243.8 581.0,231.4 Q547.8,239.0 514.5,231.4Z" fill="#fff"/><g fill="none" stroke="#111" stroke-width="1.85" stroke-linecap="round" stroke-linejoin="round"><path d="M530.4,166.1 C536.2,165.9 557.5,163.9 565.7,164.9 C573.8,165.9 576.0,168.8 579.1,172.0 C582.2,175.3 583.5,180.1 584.4,184.3 C585.3,188.5 585.3,193.5 584.3,197.2 C583.3,200.9 584.7,204.5 578.6,206.5 C572.4,208.6 557.1,209.8 547.3,209.5 C537.4,209.2 525.7,206.6 519.6,204.7 C513.5,202.8 511.7,201.3 510.6,198.1 C509.6,194.9 512.5,190.2 513.3,185.7 C514.1,181.3 512.5,174.9 515.6,171.5 C518.7,168.0 523.9,165.8 532.0,164.9 C540.1,163.9 558.8,165.5 564.2,165.6"/><path d="M530.2,167.0 C535.9,167.2 556.4,166.9 564.3,167.8 C572.3,168.8 574.9,169.5 578.1,172.5 C581.2,175.6 582.4,182.0 583.5,186.2 C584.5,190.5 585.6,194.6 584.6,198.1 C583.6,201.6 583.5,204.9 577.3,207.0 C571.2,209.1 557.3,210.2 547.4,210.4 C537.6,210.7 524.4,210.4 518.4,208.6 C512.5,206.8 512.9,203.3 511.6,199.5 C510.3,195.7 510.1,190.0 510.7,185.6 C511.3,181.1 512.1,175.9 515.4,173.0 C518.8,170.0 523.0,168.8 531.0,167.9 C538.9,167.0 557.6,167.7 563.0,167.7"/><path d="M569.0,177.0 C570.4,178.3 578.0,182.5 577.5,185.0 C577.1,187.5 571.6,190.5 566.3,192.1 C561.0,193.7 552.8,194.6 545.7,194.5 C538.7,194.4 528.7,193.3 524.1,191.5 C519.4,189.7 517.6,186.8 518.0,183.8 C518.4,180.9 521.3,175.9 526.6,174.0 C531.9,172.1 542.7,172.3 549.8,172.7 C556.9,173.1 564.5,174.7 569.3,176.6 C574.1,178.5 577.0,182.9 578.5,184.1"/><path d="M578.3,186.2 C576.8,187.4 574.5,191.8 569.2,193.3 C563.8,194.9 553.3,195.7 546.1,195.5 C538.8,195.2 530.4,193.5 525.8,191.7 C521.2,189.8 517.7,187.1 518.4,184.4 C519.0,181.6 524.4,177.1 529.8,175.1 C535.2,173.1 543.9,171.8 550.7,172.3 C557.4,172.8 565.5,175.7 570.2,178.1 C574.9,180.4 579.1,184.2 578.8,186.5 C578.5,188.8 570.1,191.0 568.3,191.9"/><path d="M584.6,208.5 C581.7,209.5 573.1,213.2 566.8,214.4 C560.5,215.5 552.8,215.5 546.8,215.6 C540.8,215.6 536.8,215.8 530.9,214.6 C525.0,213.3 514.6,206.3 511.5,208.1 C508.4,209.8 511.0,221.4 512.2,225.1 C513.3,228.9 512.7,228.9 518.5,230.6 C524.3,232.3 537.0,235.0 546.9,235.1 C556.8,235.3 571.6,233.4 577.8,231.6 C584.0,229.8 582.8,228.2 584.0,224.4 C585.3,220.7 588.3,210.7 585.4,209.1 C582.5,207.5 569.9,213.8 566.8,214.8"/><path d="M518.1,230.2 C523.1,230.9 538.1,234.5 548.1,234.6 C558.1,234.7 571.8,233.2 578.0,230.9 C584.1,228.5 584.2,224.4 585.1,220.6 C585.9,216.8 586.1,209.6 583.1,208.0 C580.1,206.5 573.1,210.1 567.2,211.2 C561.3,212.3 554.0,214.1 547.7,214.5 C541.3,214.8 535.1,214.8 529.1,213.4 C523.2,212.1 514.8,204.9 511.9,206.4 C509.0,207.8 510.6,218.2 511.6,222.2 C512.5,226.1 511.7,228.1 517.6,230.1 C523.5,232.1 542.3,233.5 547.2,234.2"/><path d="M585.8,246.9 C585.7,244.5 589.0,233.9 585.7,232.5 C582.4,231.0 572.4,237.1 566.1,238.1 C559.9,239.0 554.1,238.2 548.2,238.2 C542.3,238.1 536.7,238.7 530.9,237.8 C525.1,236.9 516.2,231.3 513.3,232.9 C510.3,234.5 512.8,243.9 513.4,247.6 C514.0,251.2 510.8,252.5 516.9,254.5 C522.9,256.5 539.0,259.5 549.6,259.6 C560.2,259.6 574.6,257.0 580.4,254.8 C586.3,252.6 583.7,250.4 584.6,246.6 C585.5,242.7 585.5,234.3 585.7,231.9"/><path d="M564.8,236.8 C561.9,237.3 553.3,239.5 547.6,239.4 C541.8,239.2 536.2,236.8 530.3,235.8 C524.3,234.7 515.0,231.3 512.0,233.1 C509.0,235.0 511.4,243.0 512.1,246.8 C512.8,250.6 510.2,254.0 516.2,256.2 C522.2,258.3 537.7,259.8 548.2,259.5 C558.6,259.3 573.2,256.9 578.9,254.8 C584.6,252.6 581.5,250.6 582.4,246.7 C583.3,242.9 587.1,232.9 584.4,231.4 C581.7,230.0 572.4,237.0 566.1,238.3 C559.8,239.5 549.8,238.7 546.6,238.8"/></g><path d="M193.5,315.2 C194.3,312.9 195.0,304.3 198.2,301.0 C201.3,297.6 204.5,295.9 212.4,294.9 C220.2,293.9 237.3,293.9 245.1,294.9 C253.0,295.9 256.2,297.6 259.3,301.0 C262.5,304.3 263.2,306.7 264.0,315.2 C264.8,323.8 264.0,341.6 264.0,352.2 C264.0,362.7 266.0,372.8 264.0,378.6 C262.0,384.4 257.8,385.5 251.9,387.1 C246.1,388.7 236.5,388.1 228.8,388.1 C221.0,388.1 211.4,388.7 205.6,387.1 C199.7,385.5 195.5,384.4 193.5,378.6 C191.5,372.8 193.5,362.7 193.5,352.2 C193.5,341.6 193.5,321.4 193.5,315.2 Z" fill="#c8c8c8"/><path d="M195.5,336.1 Q228.8,347.4 262.0,336.1 Q228.8,342.7 195.5,336.1Z" fill="#fff"/><path d="M195.5,360.7 Q228.8,372.9 262.0,360.7 Q228.8,368.2 195.5,360.7Z" fill="#fff"/><g fill="none" stroke="#111" stroke-width="1.85" stroke-linecap="round" stroke-linejoin="round"><path d="M193.5,328.3 C193.1,326.1 190.3,319.9 190.9,315.3 C191.5,310.8 193.8,304.5 197.2,300.8 C200.6,297.1 203.3,294.3 211.3,293.2 C219.3,292.1 237.1,293.1 245.1,294.5 C253.1,295.9 256.1,298.1 259.3,301.7 C262.5,305.2 263.5,311.4 264.3,315.7 C265.1,319.9 265.3,323.6 264.0,327.2 C262.6,330.8 262.4,335.2 256.4,337.4 C250.4,339.6 237.5,340.5 228.0,340.5 C218.4,340.5 204.9,339.5 199.1,337.3 C193.4,335.1 194.2,330.9 193.3,327.3 C192.3,323.7 193.4,317.6 193.5,315.6"/><path d="M195.9,299.7 C198.3,298.7 202.0,294.5 210.3,293.3 C218.6,292.2 237.5,291.5 245.6,292.8 C253.8,294.1 255.9,297.5 259.1,301.3 C262.3,305.1 264.1,310.8 264.9,315.4 C265.7,320.0 265.3,325.5 263.9,328.7 C262.6,332.0 262.8,333.0 256.9,334.9 C250.9,336.8 237.9,340.1 228.3,340.1 C218.8,340.1 205.7,337.2 199.8,335.0 C193.9,332.8 194.2,330.5 193.2,327.1 C192.2,323.7 193.2,319.5 193.6,314.8 C194.0,310.1 192.8,302.3 195.7,298.9 C198.7,295.6 208.7,295.2 211.3,294.5"/><path d="M206.7,304.4 C209.9,303.3 218.8,298.2 225.8,297.6 C232.9,297.1 243.0,298.3 248.9,300.9 C254.9,303.5 261.0,309.0 261.6,313.2 C262.2,317.4 257.5,323.3 252.5,326.1 C247.5,329.0 238.9,330.3 231.8,330.4 C224.7,330.4 215.3,328.6 209.9,326.4 C204.5,324.2 200.4,320.8 199.5,317.1 C198.6,313.4 200.2,307.0 204.5,304.0 C208.9,301.1 222.1,300.0 225.7,299.2"/><path d="M260.8,314.5 C259.3,316.2 256.7,321.5 252.0,324.5 C247.3,327.4 239.7,331.9 232.6,332.3 C225.5,332.7 215.3,329.4 209.7,326.8 C204.0,324.2 199.3,320.6 198.5,316.8 C197.6,312.9 199.9,306.9 204.5,303.6 C209.1,300.4 218.6,297.7 226.1,297.3 C233.6,296.9 243.8,298.7 249.4,301.2 C255.0,303.8 259.0,308.6 259.7,312.4 C260.4,316.2 254.6,322.2 253.6,324.1"/><path d="M230.3,361.6 C235.3,361.1 254.1,360.2 260.1,358.7 C266.1,357.1 265.2,355.6 266.3,352.3 C267.4,348.9 270.1,340.4 266.9,338.5 C263.7,336.6 253.6,339.7 247.2,340.7 C240.7,341.7 234.2,344.7 228.2,344.8 C222.1,344.9 216.7,342.6 210.7,341.3 C204.7,340.0 195.0,335.1 192.0,336.9 C189.0,338.7 191.6,348.5 192.6,352.1 C193.6,355.8 191.7,357.1 198.0,358.9 C204.3,360.7 220.3,362.7 230.4,362.6 C240.6,362.6 254.1,359.4 258.8,358.8"/><path d="M229.0,362.6 C233.8,362.0 251.8,360.9 257.6,359.2 C263.4,357.6 262.9,356.2 263.8,352.8 C264.7,349.4 266.4,340.5 263.2,338.9 C260.1,337.3 250.7,342.7 244.9,343.4 C239.2,344.0 234.4,343.2 228.5,342.9 C222.7,342.6 216.1,342.7 209.9,341.7 C203.6,340.6 194.2,334.8 191.1,336.7 C188.1,338.6 190.1,349.1 191.4,353.1 C192.7,357.0 193.1,358.9 199.0,360.5 C204.9,362.0 216.8,362.9 226.9,362.5 C237.0,362.0 254.2,358.8 259.6,358.0"/><path d="M258.3,385.5 C259.3,384.1 263.2,380.4 264.3,376.8 C265.4,373.3 268.2,365.7 265.1,364.1 C262.0,362.5 252.0,366.4 245.6,367.2 C239.2,367.9 232.8,368.8 226.8,368.7 C220.7,368.6 215.0,367.6 209.3,366.7 C203.6,365.7 195.8,361.3 192.8,362.9 C189.7,364.5 190.2,372.2 191.0,376.1 C191.9,380.0 191.5,384.1 197.9,386.4 C204.2,388.7 218.9,390.2 229.1,389.9 C239.4,389.6 253.5,386.7 259.2,384.6 C264.9,382.5 262.6,378.7 263.3,377.5"/><path d="M227.7,389.1 C232.9,388.4 253.1,387.3 259.1,385.2 C265.1,383.2 263.0,380.7 263.9,377.0 C264.9,373.3 267.3,364.6 264.7,362.9 C262.1,361.2 254.3,365.6 248.1,366.7 C241.9,367.7 233.8,369.1 227.6,369.2 C221.3,369.4 216.7,369.1 210.7,367.7 C204.8,366.4 194.9,359.7 192.0,361.1 C189.2,362.4 192.7,371.9 193.6,375.8 C194.5,379.6 191.6,382.4 197.5,384.3 C203.5,386.1 218.9,387.0 229.2,387.0 C239.5,387.1 254.4,384.9 259.4,384.5"/></g><path d="M300.5,314.0 C301.3,312.1 302.0,305.5 305.2,302.9 C308.3,300.2 311.5,298.9 319.4,298.2 C327.2,297.4 344.3,297.4 352.1,298.2 C360.0,298.9 363.2,300.2 366.3,302.9 C369.5,305.5 370.2,305.6 371.0,314.0 C371.8,322.3 371.0,342.0 371.0,352.9 C371.0,363.7 373.0,373.4 371.0,379.2 C369.0,385.0 364.8,386.1 358.9,387.6 C353.1,389.2 343.5,388.6 335.8,388.6 C328.0,388.6 318.4,389.2 312.6,387.6 C306.7,386.1 302.5,385.0 300.5,379.2 C298.5,373.4 300.5,363.7 300.5,352.9 C300.5,342.0 300.5,320.5 300.5,314.0 Z" fill="#c8c8c8"/><path d="M302.5,336.9 Q335.8,348.2 369.0,336.9 Q335.8,343.5 302.5,336.9Z" fill="#fff"/><path d="M302.5,361.3 Q335.8,373.5 369.0,361.3 Q335.8,368.8 302.5,361.3Z" fill="#fff"/><g fill="none" stroke="#111" stroke-width="1.85" stroke-linecap="round" stroke-linejoin="round"><path d="M334.2,341.3 C329.7,340.6 312.8,339.5 307.0,337.4 C301.3,335.2 300.9,332.4 299.7,328.4 C298.5,324.3 299.3,317.4 299.8,313.1 C300.2,308.8 299.3,305.5 302.4,302.6 C305.4,299.7 309.5,296.8 317.9,295.6 C326.3,294.5 344.6,295.1 352.6,295.9 C360.5,296.8 362.5,298.0 365.6,300.8 C368.8,303.6 370.6,308.2 371.5,312.8 C372.3,317.3 371.7,324.6 370.6,328.3 C369.6,332.1 370.9,333.1 365.2,335.3 C359.4,337.4 346.1,340.7 336.1,341.0 C326.1,341.4 310.4,338.1 305.2,337.6"/><path d="M300.2,327.4 C300.3,325.2 300.2,319.0 300.7,314.6 C301.2,310.3 300.1,304.1 303.2,301.2 C306.3,298.3 310.9,298.1 319.0,297.3 C327.2,296.5 344.1,295.6 352.1,296.2 C360.1,296.9 363.7,298.1 367.1,301.3 C370.5,304.4 371.7,310.5 372.4,315.0 C373.1,319.6 372.3,325.2 371.2,328.7 C370.0,332.2 371.3,333.8 365.6,336.0 C359.9,338.2 346.6,341.8 336.8,341.9 C327.0,342.0 312.6,338.9 306.6,336.7 C300.6,334.5 301.8,332.1 300.6,328.6 C299.4,325.0 299.6,317.5 299.4,315.3"/><path d="M311.6,321.4 C310.7,320.0 305.0,315.9 306.0,313.0 C307.1,310.1 311.9,305.8 317.6,303.9 C323.4,302.0 333.8,301.1 340.7,301.7 C347.6,302.3 355.1,304.9 359.2,307.4 C363.2,309.8 365.8,314.1 364.9,316.6 C363.9,319.0 359.3,320.7 353.4,322.0 C347.5,323.4 336.7,324.9 329.6,324.5 C322.4,324.1 314.5,322.0 310.6,319.8 C306.7,317.5 307.0,312.5 306.3,311.1"/><path d="M308.1,312.0 C310.1,310.8 314.3,306.8 320.0,305.0 C325.8,303.1 335.7,300.6 342.6,300.8 C349.6,301.0 357.5,303.8 361.6,306.2 C365.6,308.5 368.0,312.0 366.8,315.0 C365.6,318.0 360.0,322.6 354.2,324.2 C348.4,325.8 339.0,325.2 332.0,324.5 C325.0,323.9 316.2,322.5 312.2,320.2 C308.3,318.0 307.1,313.7 308.2,311.1 C309.2,308.5 317.0,305.5 318.7,304.4"/><path d="M299.8,354.9 C300.4,356.0 297.2,359.9 303.3,361.5 C309.3,363.2 325.7,364.7 336.1,364.9 C346.4,365.0 359.3,364.2 365.4,362.4 C371.4,360.6 371.4,357.7 372.3,354.0 C373.1,350.3 373.6,342.1 370.5,340.4 C367.4,338.7 359.6,342.8 353.7,343.8 C347.7,344.8 341.0,346.3 334.7,346.3 C328.5,346.4 322.0,345.2 316.0,344.1 C310.0,342.9 301.5,337.8 298.8,339.3 C296.0,340.8 298.8,349.4 299.7,353.2 C300.7,357.0 303.6,360.7 304.4,362.2"/><path d="M299.0,337.9 C299.1,340.1 298.3,347.1 299.2,350.9 C300.1,354.8 298.5,358.7 304.4,360.8 C310.3,363.0 324.3,364.0 334.5,363.7 C344.7,363.5 359.3,361.2 365.7,359.2 C372.1,357.2 371.8,355.4 372.8,351.7 C373.9,348.1 375.7,338.6 372.2,337.3 C368.8,336.0 358.3,343.0 352.1,344.0 C345.9,344.9 341.0,343.3 335.1,343.1 C329.2,342.9 322.7,343.7 316.8,342.7 C310.9,341.7 302.7,335.3 299.6,337.1 C296.5,338.9 298.5,350.8 298.2,353.6"/><path d="M304.1,385.2 C309.4,385.9 325.4,389.3 335.9,389.2 C346.4,389.2 360.8,386.7 367.0,384.9 C373.1,383.2 371.8,382.5 372.8,378.8 C373.9,375.1 376.3,364.6 373.2,362.9 C370.1,361.2 360.3,367.5 354.1,368.6 C347.9,369.7 342.4,369.5 336.2,369.4 C329.9,369.3 322.5,369.1 316.3,368.0 C310.2,366.8 302.4,360.6 299.5,362.5 C296.6,364.3 298.3,374.9 299.0,379.0 C299.8,383.1 298.2,385.2 304.2,387.1 C310.1,388.9 329.8,389.7 335.0,390.2"/><path d="M299.1,377.8 C300.0,379.1 298.4,383.5 304.5,385.3 C310.6,387.2 325.5,388.9 335.7,389.1 C345.8,389.3 359.3,388.4 365.5,386.5 C371.6,384.5 371.7,381.2 372.7,377.2 C373.8,373.2 374.9,363.9 371.6,362.2 C368.3,360.5 359.1,365.6 353.1,366.8 C347.1,368.0 341.9,369.1 335.7,369.4 C329.6,369.8 322.4,369.9 316.2,369.0 C310.1,368.1 301.4,362.5 298.8,364.1 C296.1,365.6 299.3,374.9 300.2,378.5 C301.1,382.0 303.6,384.3 304.2,385.4"/></g><path d="M409.5,313.0 C410.3,311.1 411.0,304.1 414.2,301.3 C417.3,298.6 420.5,297.2 428.4,296.4 C436.2,295.6 453.3,295.6 461.1,296.4 C469.0,297.2 472.2,298.6 475.3,301.3 C478.5,304.1 479.2,304.4 480.0,313.0 C480.8,321.6 480.0,341.8 480.0,352.9 C480.0,363.9 482.0,373.4 480.0,379.2 C478.0,385.0 473.8,386.1 467.9,387.6 C462.1,389.2 452.5,388.6 444.8,388.6 C437.0,388.6 427.4,389.2 421.6,387.6 C415.7,386.1 411.5,385.0 409.5,379.2 C407.5,373.4 409.5,363.9 409.5,352.9 C409.5,341.8 409.5,319.7 409.5,313.0 Z" fill="#c8c8c8"/><path d="M411.5,336.9 Q444.8,348.2 478.0,336.9 Q444.8,343.5 411.5,336.9Z" fill="#fff"/><path d="M411.5,361.3 Q444.8,373.5 478.0,361.3 Q444.8,368.8 411.5,361.3Z" fill="#fff"/><g fill="none" stroke="#111" stroke-width="1.85" stroke-linecap="round" stroke-linejoin="round"><path d="M408.7,312.0 C409.3,309.9 409.4,302.6 412.5,299.7 C415.6,296.8 419.1,295.5 427.3,294.8 C435.5,294.2 453.6,294.8 461.6,295.7 C469.5,296.5 472.2,297.2 475.0,300.1 C477.9,303.0 478.0,308.6 478.8,313.0 C479.6,317.4 481.1,322.8 479.9,326.6 C478.7,330.3 477.7,333.4 471.6,335.6 C465.5,337.9 452.9,339.8 443.5,340.2 C434.2,340.5 421.4,339.8 415.2,337.6 C409.1,335.4 407.9,331.3 406.6,327.1 C405.3,322.9 406.2,316.6 407.3,312.3 C408.4,308.0 412.1,303.2 413.1,301.3"/><path d="M416.3,336.0 C414.9,335.0 408.9,333.7 407.7,329.8 C406.5,326.0 408.4,317.8 409.1,313.1 C409.8,308.5 408.7,304.7 411.9,301.9 C415.1,299.1 419.7,297.3 428.1,296.5 C436.6,295.6 454.7,296.1 462.7,296.7 C470.6,297.2 472.7,297.1 475.7,299.8 C478.6,302.6 479.3,308.5 480.1,313.1 C480.9,317.8 482.0,323.6 480.7,327.6 C479.4,331.7 478.5,335.2 472.5,337.3 C466.6,339.4 454.0,340.3 444.7,340.3 C435.4,340.3 423.1,339.3 416.8,337.3 C410.5,335.3 408.6,329.8 406.9,328.3"/><path d="M439.2,324.3 C435.8,323.2 422.6,320.3 418.5,317.6 C414.4,315.0 412.8,311.1 414.7,308.4 C416.6,305.8 423.7,302.8 430.1,301.6 C436.5,300.3 446.3,300.3 453.1,300.9 C459.9,301.4 467.4,302.2 470.8,304.7 C474.3,307.1 475.5,312.3 473.7,315.4 C471.9,318.5 466.0,321.7 460.0,323.0 C454.1,324.4 445.1,323.9 438.2,323.3 C431.3,322.8 421.8,320.5 418.5,320.0"/><path d="M430.4,300.4 C433.9,300.5 444.4,299.7 451.1,300.7 C457.8,301.6 466.7,303.9 470.6,306.2 C474.4,308.5 476.0,311.8 474.3,314.4 C472.6,317.1 466.4,320.4 460.6,322.1 C454.8,323.9 446.3,325.4 439.4,324.9 C432.6,324.3 423.3,321.6 419.4,318.8 C415.5,316.1 414.0,311.1 415.8,308.3 C417.7,305.4 424.3,303.1 430.6,301.7 C436.9,300.3 449.7,300.1 453.5,299.8"/><path d="M425.1,343.2 C422.1,342.1 409.8,335.3 407.1,336.8 C404.4,338.3 407.9,348.5 409.0,352.2 C410.1,355.9 407.5,357.0 413.5,359.1 C419.6,361.3 435.3,364.7 445.3,364.9 C455.3,365.1 467.5,362.4 473.5,360.3 C479.4,358.3 479.8,356.3 481.0,352.5 C482.1,348.8 483.2,339.8 480.2,337.9 C477.2,336.1 468.8,340.7 462.9,341.6 C457.1,342.5 451.6,343.0 445.3,343.2 C439.0,343.3 431.6,343.2 425.2,342.6 C418.7,341.9 409.7,339.8 406.6,339.3"/><path d="M481.2,337.7 C478.1,338.3 469.0,340.3 462.7,341.5 C456.5,342.7 449.9,344.9 443.8,345.0 C437.8,345.1 432.3,343.3 426.3,342.0 C420.3,340.7 410.8,335.9 407.8,337.4 C404.7,338.9 406.7,347.2 407.9,350.8 C409.1,354.4 408.9,357.0 414.9,359.2 C420.9,361.4 434.0,364.0 443.9,363.9 C453.8,363.9 467.8,361.1 474.2,359.0 C480.5,356.8 480.9,354.4 482.1,351.1 C483.2,347.7 484.0,340.5 481.0,338.9 C477.9,337.4 466.7,341.3 463.9,341.7"/><path d="M480.8,377.3 C480.6,374.9 483.1,364.4 479.9,362.9 C476.6,361.5 467.3,367.5 461.5,368.7 C455.6,369.9 450.3,370.5 444.7,370.4 C439.0,370.2 433.6,369.0 427.5,368.0 C421.3,367.0 411.0,362.9 407.8,364.4 C404.5,365.9 407.0,373.5 408.0,376.8 C409.0,380.2 407.6,382.3 413.8,384.5 C419.9,386.7 434.9,389.5 444.9,389.8 C454.8,390.1 467.5,388.5 473.5,386.5 C479.5,384.5 480.2,381.7 481.1,377.8 C482.0,374.0 479.4,366.0 479.1,363.6"/><path d="M412.8,384.6 C418.2,385.3 434.9,388.8 445.4,388.8 C455.8,388.7 469.4,386.4 475.3,384.4 C481.2,382.4 479.9,380.3 480.8,376.7 C481.7,373.0 483.9,364.0 480.6,362.4 C477.4,360.8 467.5,366.2 461.3,367.1 C455.1,368.1 449.3,368.0 443.6,368.0 C437.9,368.0 432.8,367.7 426.9,367.1 C420.9,366.4 410.8,362.3 407.9,364.1 C404.9,366.0 407.7,374.7 408.9,378.1 C410.1,381.5 409.1,382.9 414.9,384.5 C420.7,386.1 438.9,387.4 443.7,388.0"/></g><path d="M769.0,48.4 C769.8,46.4 770.5,39.2 773.6,36.3 C776.8,33.5 780.0,32.1 787.7,31.2 C795.5,30.4 812.5,30.4 820.3,31.2 C828.0,32.1 831.2,33.5 834.4,36.3 C837.5,39.2 838.2,39.9 839.0,48.4 C839.8,57.0 839.0,76.6 839.0,87.7 C839.0,98.8 841.0,108.9 839.0,114.8 C837.0,120.8 832.9,121.9 827.0,123.6 C821.2,125.2 811.7,124.5 804.0,124.5 C796.3,124.5 786.8,125.2 781.0,123.6 C775.1,121.9 771.0,120.8 769.0,114.8 C767.0,108.9 769.0,98.8 769.0,87.7 C769.0,76.6 769.0,55.0 769.0,48.4 Z" fill="#fff"/><path d="M771.0,71.2 Q804.0,82.8 837.0,71.2 Q804.0,78.0 771.0,71.2Z" fill="#fff"/><path d="M771.0,96.4 Q804.0,109.0 837.0,96.4 Q804.0,104.2 771.0,96.4Z" fill="#fff"/><g fill="none" stroke="#111" stroke-width="1.5" stroke-linecap="round" stroke-linejoin="round"><path d="M769.7,61.5 C769.6,59.4 768.3,53.0 769.2,48.7 C770.0,44.4 771.5,39.0 774.8,35.8 C778.1,32.6 781.3,30.5 789.0,29.6 C796.7,28.6 812.9,29.1 820.7,30.1 C828.6,31.0 832.7,32.2 836.1,35.3 C839.5,38.4 840.3,44.0 841.1,48.5 C841.9,53.1 842.1,59.0 840.9,62.7 C839.7,66.3 840.1,68.5 834.1,70.6 C828.2,72.8 814.9,75.2 805.3,75.6 C795.6,76.0 782.2,75.1 776.2,72.8 C770.1,70.6 770.0,66.1 768.8,62.1 C767.5,58.1 768.6,51.1 768.6,48.8"/><path d="M841.6,61.5 C840.3,63.2 839.9,69.3 833.9,71.8 C827.9,74.2 815.1,76.3 805.5,76.3 C795.8,76.3 781.7,74.1 775.8,71.9 C769.8,69.7 771.1,67.1 769.7,63.1 C768.2,59.2 766.3,52.7 767.0,48.1 C767.7,43.4 770.3,38.4 773.9,35.4 C777.5,32.4 780.8,30.8 788.8,30.2 C796.7,29.6 813.9,31.1 821.8,31.9 C829.6,32.7 832.8,32.4 835.9,35.1 C839.0,37.8 839.5,43.6 840.4,48.1 C841.4,52.7 842.9,58.6 841.6,62.5 C840.3,66.3 834.2,69.9 832.7,71.4"/><path d="M775.7,43.9 C778.7,43.0 786.9,39.4 793.6,38.2 C800.2,37.0 809.0,35.7 815.5,36.7 C822.1,37.8 830.1,42.0 832.8,44.4 C835.5,46.8 834.8,48.9 831.7,51.3 C828.7,53.7 821.2,57.8 814.5,58.8 C807.9,59.9 798.0,58.7 791.8,57.5 C785.7,56.2 780.2,53.7 777.5,51.2 C774.9,48.7 773.5,44.9 776.1,42.5 C778.6,40.0 790.2,37.5 793.0,36.6"/><path d="M776.1,42.6 C778.9,41.8 786.3,38.8 792.9,37.7 C799.4,36.6 808.8,35.4 815.5,36.1 C822.2,36.8 830.2,39.3 833.0,41.8 C835.7,44.2 834.8,48.2 832.1,50.8 C829.3,53.4 822.9,56.4 816.5,57.4 C810.0,58.3 800.0,57.4 793.5,56.4 C786.9,55.4 779.9,53.6 777.1,51.4 C774.3,49.2 773.9,45.9 776.7,43.3 C779.5,40.7 791.0,36.9 793.8,35.6"/><path d="M832.0,96.5 C833.1,94.9 837.4,90.3 838.5,86.6 C839.6,82.9 841.6,75.9 838.5,74.4 C835.4,72.9 826.0,77.1 820.1,77.8 C814.2,78.5 809.0,79.0 803.2,78.8 C797.4,78.6 791.2,77.4 785.2,76.7 C779.1,76.0 770.0,72.5 766.9,74.5 C763.9,76.4 766.1,84.7 767.0,88.3 C767.9,92.0 766.4,94.2 772.3,96.1 C778.2,98.0 792.0,99.8 802.4,99.7 C812.7,99.6 828.3,97.5 834.5,95.4 C840.8,93.3 838.9,88.5 839.8,87.2"/><path d="M841.2,89.2 C841.2,86.4 844.4,74.7 841.3,72.7 C838.1,70.7 828.4,76.0 822.1,77.3 C815.8,78.6 809.2,80.4 803.5,80.5 C797.8,80.6 793.7,78.8 787.8,77.7 C781.9,76.6 771.0,71.9 768.0,73.8 C765.0,75.7 768.9,85.4 769.8,89.2 C770.8,93.0 767.7,94.7 773.7,96.5 C779.7,98.4 795.6,100.6 805.8,100.3 C815.9,100.0 828.6,97.0 834.6,94.8 C840.6,92.7 840.8,91.0 841.8,87.5 C842.7,83.9 840.7,75.9 840.5,73.6"/><path d="M839.4,111.3 C839.8,109.3 844.1,100.5 841.5,99.0 C839.0,97.6 830.4,101.7 824.1,102.4 C817.7,103.2 809.7,103.2 803.4,103.4 C797.1,103.5 792.0,104.2 786.5,103.4 C780.9,102.5 773.0,96.8 770.1,98.1 C767.2,99.5 768.4,107.7 769.0,111.4 C769.6,115.1 767.7,117.9 773.7,120.1 C779.7,122.3 794.6,124.4 805.1,124.7 C815.5,125.1 830.3,124.3 836.3,122.1 C842.2,119.9 839.9,115.9 840.6,111.6 C841.3,107.4 840.4,99.1 840.3,96.5"/><path d="M786.5,103.2 C783.6,102.5 772.2,97.3 769.2,99.0 C766.2,100.6 767.6,109.1 768.5,113.0 C769.3,117.0 768.1,120.3 774.3,122.7 C780.5,125.0 795.7,127.4 805.6,127.2 C815.6,127.0 828.2,123.9 834.0,121.6 C839.8,119.4 839.5,117.6 840.6,113.6 C841.6,109.7 843.5,99.8 840.3,98.1 C837.1,96.3 827.5,101.9 821.5,103.3 C815.6,104.7 810.2,106.3 804.6,106.5 C799.0,106.8 793.6,105.8 787.9,104.8 C782.1,103.7 773.0,101.0 770.0,100.2"/></g><g fill="none" stroke="#111" stroke-width="1.7" stroke-linecap="round"><path d="M95.7,223.1 C128.4,185.1 161.0,147.3 194.1,107.9"/><path d="M96.0,223.1 C128.4,185.1 161.1,147.5 193.9,107.9"/><path d="M95.8,223.1 C132.0,223.3 167.9,222.1 205.0,222.3"/><path d="M96.0,222.9 C132.0,223.0 167.9,222.5 205.0,222.5"/><path d="M95.8,223.2 C129.1,256.6 162.3,290.0 196.0,324.8"/><path d="M95.8,223.0 C128.7,257.0 162.2,290.1 195.9,325.0"/></g><path d="M195.0,106.0 L173.0,117.0 L190.0,129.0 Z" fill="#111" stroke="#111" stroke-width="2" stroke-linejoin="round"/><path d="M209.0,221.0 L185.0,211.0 L185.0,234.0 Z" fill="#111" stroke="#111" stroke-width="2" stroke-linejoin="round"/><path d="M198.0,327.0 L189.0,302.0 L175.0,317.0 Z" fill="#111" stroke="#111" stroke-width="2" stroke-linejoin="round"/><path d="M177,317.6 L190.5,322.2" stroke="#fff" stroke-width="1.3" stroke-linecap="round"/><path d="M175.5,117 L188.5,125.2" stroke="#fff" stroke-width="1.3" stroke-linecap="round"/><rect x="508" y="298.5" width="76.5" height="99" rx="15" ry="15" fill="none" stroke="#111" stroke-width="2.5" stroke-dasharray="2.6 10.4" stroke-linecap="round"/><g fill="none" stroke="#111" stroke-width="1.4" stroke-linecap="round"><path d="M758.4,106.3 C750.2,160 737.4,215 705.5,260 C677.3,296.6 632.6,313.7 597,341.5"/><path d="M761.3,109.5 C753,162 740,216 707,260.5 C678.5,297.5 633,314.5 597.5,341.5"/></g><path d="M596.0,342.5 L610.0,323.5 L620.5,339.5 Z" fill="#111" stroke="#111" stroke-width="2" stroke-linejoin="round"/><g fill="none" stroke="#111" stroke-width="1.5" stroke-linecap="round"><path d="M940,86 L862,86.5"/><path d="M940,89.5 L862,89"/></g><path d="M847,87.5 L870,78 L868,98.5 Z" fill="#111" stroke="#111" stroke-width="2" stroke-linejoin="round"/><defs><pattern id="hatch" width="12.5" height="12.5" patternUnits="userSpaceOnUse" patternTransform="rotate(45)"><path d="M0,0 L0,12.5 M0,0 L12.5,0" stroke="#c6cacf" stroke-width="1.5"/></pattern></defs><ellipse cx="975" cy="44.6" rx="17.5" ry="15.3" fill="url(#hatch)" stroke="#111" stroke-width="2.6"/><path d="M940.5,121 C941,95 952,62 975.5,61.5 C997,61 1012,92 1012.5,108 C1013,117 1008,120 1000,120 L940.5,121 Z" fill="url(#hatch)" stroke="#111" stroke-width="2.6" stroke-linejoin="round"/><text x="228.5" y="154.5" text-anchor="middle" class="t" fill="#2c8160" stroke="#2c8160">Done</text><text x="338" y="154.5" text-anchor="middle" class="t" fill="#2c8160" stroke="#2c8160">Done</text><text x="443" y="154.5" text-anchor="middle" class="t" fill="#2c8160" stroke="#2c8160">Done</text><text x="546.5" y="154.5" text-anchor="middle" class="t" fill="#2c8160" stroke="#2c8160">Done</text><text x="229" y="285" text-anchor="middle" class="t" fill="#2c8160" stroke="#2c8160">Done</text><text x="337.5" y="285" text-anchor="middle" class="t" fill="#2c8160" stroke="#2c8160">Done</text><text x="442.5" y="285" text-anchor="middle" class="t" fill="#2c8160" stroke="#2c8160">Done</text><text x="542" y="285" text-anchor="middle" class="t" fill="#2c8160" stroke="#2c8160">Done</text><text x="228" y="418.5" text-anchor="middle" class="t" fill="#2c8160" stroke="#2c8160">Done</text><text x="336.5" y="418.5" text-anchor="middle" class="t" fill="#2c8160" stroke="#2c8160">Done</text><text x="442.3" y="418.5" text-anchor="middle" class="t" fill="#c83538" stroke="#c83538">Failed</text><text x="807.5" y="160" text-anchor="middle" class="t" fill="#151515" stroke="#151515">New DB</text><text x="980" y="159.7" text-anchor="middle" class="t" fill="#151515" stroke="#151515" style="font-size:23.6px">New Customer</text><path d="M37.5,186 L80,187 L97,199.5 L96.5,271.5 L37.5,271.5 Z" fill="#fff"/><g fill="none" stroke="#111" stroke-width="1.9" stroke-linecap="round"><path d="M37.0,184.6 C51.2,185.7 65.4,186.3 80.0,187.5"/><path d="M36.8,184.8 C51.2,185.3 65.4,186.5 80.2,187.5"/><path d="M37.8,186.7 C51.5,187.1 65.1,187.6 79.1,187.6"/><path d="M37.8,186.2 C37.6,214.2 38.0,242.4 37.8,271.6"/><path d="M37.8,185.9 C38.3,214.2 37.6,242.4 37.7,271.3"/><path d="M37.7,271.6 C57.2,271.4 76.5,270.9 96.5,271.2"/><path d="M37.8,271.7 C57.2,271.5 76.5,271.5 96.7,270.8"/><path d="M94.9,199.6 C94.7,223.1 95.2,246.7 95.3,270.8"/><path d="M96.8,199.6 C96.8,223.1 96.5,246.7 96.6,271.0"/><path d="M41.4,202.0 C52.3,201.3 63.3,201.1 74.9,200.6"/><path d="M44.0,206.1 C58.5,206.1 72.9,206.4 87.8,206.8"/><path d="M42.7,210.3 C57.1,209.3 71.6,208.7 86.5,208.2"/><path d="M41.9,212.5 C56.7,212.7 71.4,212.7 86.5,213.1"/><path d="M44.4,216.5 C57.9,216.2 71.3,215.6 84.9,214.6"/><path d="M42.4,217.8 C57.5,219.5 72.4,220.7 87.9,221.9"/><path d="M45.2,221.3 C57.6,220.7 69.9,220.3 82.5,219.9"/><path d="M41.2,224.3 C55.7,224.3 70.1,223.7 85.2,223.8"/><path d="M43.9,227.7 C55.0,226.7 66.0,226.1 77.3,225.7"/></g><path d="M79.5,184 L97,199 L83,200 C81,196 80.5,190 79.5,184 Z" fill="#111" stroke="#111" stroke-width="2" stroke-linejoin="round"/><path d="M30,237.5 L105,236.8 L103.5,258 L30.5,258.5 Z" fill="#fff"/><g fill="none" stroke="#111" stroke-width="1.7" stroke-linecap="round"><path d="M30.0,237.1 C54.9,236.8 79.8,236.1 105.2,236.5"/><path d="M29.8,237.3 C54.9,237.6 79.8,236.2 105.4,236.4"/><path d="M105.5,237.0 C104.8,243.9 104.5,250.9 103.8,258.3"/><path d="M105.7,237.2 C105.4,244.0 104.1,250.9 103.7,258.1"/><path d="M102.9,258.7 C79.1,258.2 55.1,258.3 30.7,258.3"/><path d="M103.2,258.6 C79.1,258.1 55.1,258.4 30.5,258.1"/><path d="M30.9,258.1 C30.4,251.7 30.4,245.0 29.9,237.9"/><path d="M30.9,258.3 C31.5,251.7 30.3,245.0 29.8,237.9"/><path d="M101.7,238.0 C102.0,244.6 102.3,251.2 102.0,258.0"/></g><g fill="none" stroke="#111" stroke-width="1.9" stroke-linecap="round" stroke-linejoin="round"><path d="M57.8,246.6 C56,246.6 53,247.2 52.9,248.2 C53,249.3 58.3,249.8 58.4,251 C58.4,252.2 55,252.9 53.6,252.7"/><path d="M66.8,242.6 C63.5,242.4 62.2,245.5 62.2,248 C62.2,250.6 64,252.2 66.5,252.1 C69.4,251.9 70.8,249.3 70.7,246.6 C70.6,244.2 69,242.7 66.8,242.6 Z"/><path d="M68.4,249.8 L72.5,254.6"/><path d="M76.7,242.7 L74,252.6 L81.7,252.3"/></g>
</svg>
</body></html>
